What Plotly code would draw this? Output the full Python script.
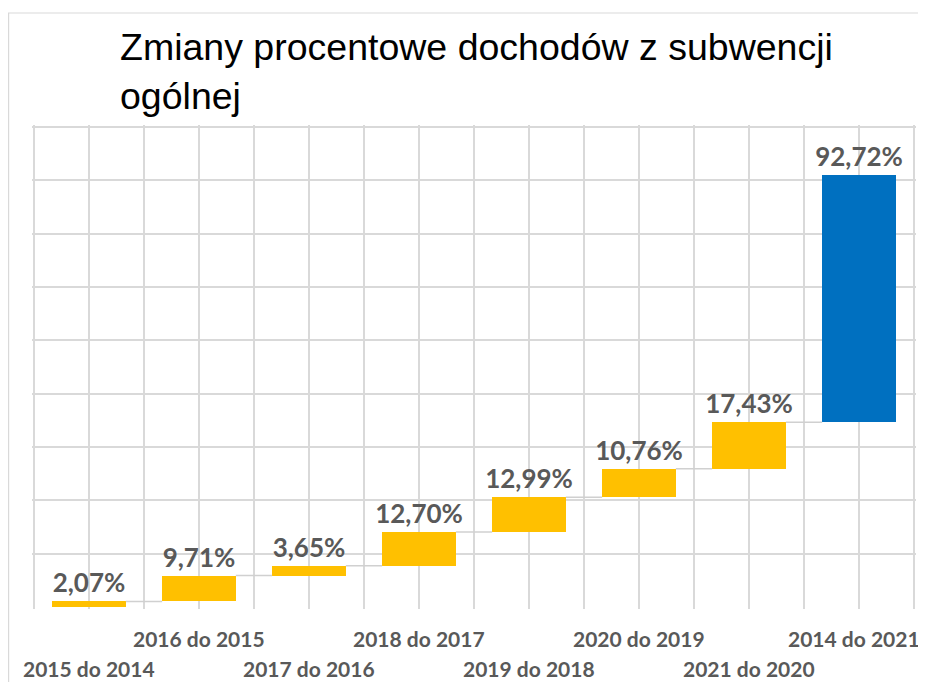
import plotly.graph_objects as go

categories = ["2015 do 2014", "2016 do 2015", "2017 do 2016", "2018 do 2017",
              "2019 do 2018", "2020 do 2019", "2021 do 2020", "2014 do 2021"]
values = [2.07, 9.71, 3.65, 12.70, 12.99, 10.76, 17.43, 92.72]
labels = ["2,07%", "9,71%", "3,65%", "12,70%", "12,99%", "10,76%", "17,43%", "92,72%"]
colors = ["#FFC000"] * 7 + ["#0070C0"]
y_grid = [20, 40, 60, 80, 100, 120, 140, 160, 180]

bases = []
acc = 0.0
for v in values:
    bases.append(acc)
    acc += v

xs = list(range(len(categories)))
bar_w = 0.67

W, H = 918, 674
L, R, T, B = 24, 10, 117, 73
PW, PH = W - L - R, H - T - B
PAD_X = 2 * 8.0 / 880   # 2 px in x units
PAD_Y = 2 * 180.0 / 480  # 2 px in y units

fig = go.Figure()
fig.add_trace(go.Bar(
    x=xs, y=values, base=bases, width=bar_w,
    marker=dict(color=colors, line=dict(width=0)),
    text=labels, textposition="outside", cliponaxis=False, constraintext="none",
    textfont=dict(family="Lato", size=26, color="#595959", weight="bold"),
    showlegend=False, hoverinfo="skip",
))

# connectors
cx, cy = [], []
for i in range(len(values) - 1):
    lvl = bases[i] + values[i]
    cx += [xs[i] + bar_w / 2, xs[i + 1] - bar_w / 2, None]
    cy += [lvl, lvl, None]
fig.add_trace(go.Scatter(x=cx, y=cy, mode="lines",
                         line=dict(color="#D0D0D0", width=1.5),
                         showlegend=False, hoverinfo="skip"))

# staggered category labels
for i, c in enumerate(categories):
    yy = -59 / PH if i % 2 == 0 else -29 / PH
    fig.add_annotation(x=xs[i], xref="x", y=yy,
                       yref="paper", text=c, showarrow=False, yanchor="middle",
                       xshift=(-5 if i == len(categories) - 1 else 0),
                       font=dict(family="Lato", size=21, color="#595959", weight="bold"))

fig.add_shape(type="rect", xref="paper", yref="paper",
              x0=(0.6 - L) / PW, x1=1.2, y0=-0.5, y1=(H - B - 5) / PH,
              line=dict(color="#D9D9D9", width=1.2), fillcolor="rgba(0,0,0,0)")

half_ticks = [i * 0.5 - 0.5 for i in range(2 * len(categories) + 1)]

fig.update_layout(
    width=W, height=H,
    margin=dict(l=L, r=R, t=T, b=B),
    paper_bgcolor="white", plot_bgcolor="white",
    title=dict(text="Zmiany procentowe dochodów z subwencji<br>ogólnej",
               x=112 / W, xref="container", xanchor="left",
               y=1 - 52 / H, yref="container", yanchor="top",
               font=dict(family="Liberation Sans, Arial", size=37.5, color="#000000")),
    xaxis=dict(range=[-0.5 - PAD_X, 7.5 + PAD_X], tickvals=half_ticks, showticklabels=False,
               showgrid=True, gridcolor="#D9D9D9", gridwidth=1.5,
               zeroline=False, showline=False, ticks=""),
    yaxis=dict(range=[-PAD_Y, 180 + PAD_Y], tickvals=y_grid, showticklabels=False,
               showgrid=True, gridcolor="#D9D9D9", gridwidth=1.5,
               zeroline=False, showline=False, ticks=""),
    bargap=0,
)

fig.write_html("out.html")
